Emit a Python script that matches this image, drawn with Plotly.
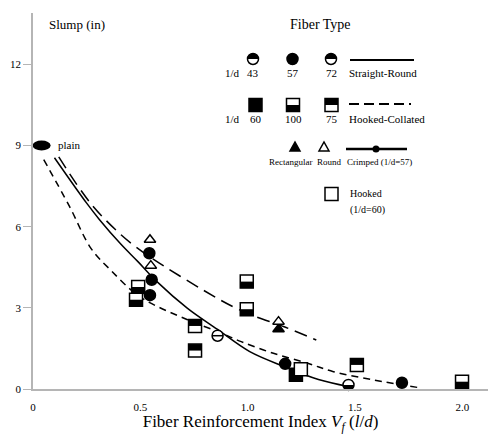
import plotly.graph_objects as go

# ---------------- data ----------------
# fitted trend curves (fiber reinforcement index vs slump)
solid_x = [0.10, 0.25, 0.31, 0.41, 0.49, 0.58, 0.72, 0.86, 1.01, 1.17, 1.33, 1.47]
solid_y = [8.55, 6.87, 6.26, 5.35, 4.70, 3.95, 2.98, 2.20, 1.38, 0.83, 0.35, 0.09]

longdash_x = [0.12, 0.27, 0.41, 0.48, 0.56, 0.79, 0.93, 1.03, 1.17, 1.32]
longdash_y = [8.58, 6.85, 5.70, 5.25, 4.80, 3.67, 3.05, 2.70, 2.30, 1.81]

shortdash_x = [0.05, 0.17, 0.27, 0.36, 0.50, 0.72, 0.87, 0.97, 1.12, 1.28, 1.40, 1.59, 1.79]
shortdash_y = [8.48, 6.75, 5.20, 4.41, 3.40, 2.56, 2.09, 1.75, 1.32, 0.95, 0.64, 0.33, 0.06]

# plain concrete
plain_x = [0.04]
plain_y = [9.0]

# straight-round fibers
round57_x = [0.542, 0.553, 0.545, 1.175, 1.719]
round57_y = [5.02, 4.04, 3.47, 0.93, 0.23]
round43_x = [0.86]
round43_y = [1.97]
round72_x = [1.47]
round72_y = [0.15]

# hooked-collated fibers
hc60_x = [1.225]
hc60_y = [0.53]
hc100_x = [0.49, 0.48, 0.996, 0.996, 1.999]
hc100_y = [3.77, 3.30, 3.97, 2.95, 0.27]
hc75_x = [0.755, 0.755, 1.509]
hc75_y = [2.33, 1.42, 0.89]

# crimped fibers
crimp_rect_x = [1.144]
crimp_rect_y = [2.21]
crimp_round_x = [0.545, 0.549, 1.144]
crimp_round_y = [5.52, 4.56, 2.49]

# hooked fibers (l/d = 60)
hooked_x = [1.248]
hooked_y = [0.73]

x_ticks = [0, 0.5, 1.0, 1.5, 2.0]
x_tick_text = ["0", "0.5", "1.0", "1.5", "2.0"]
y_ticks = [0, 3, 6, 9, 12]

# ---------------- layout geometry ----------------
W, H = 488, 434
ML, MR, MT, MB = 33, 0, 13, 45
PW, PH = W - ML - MR, H - MT - MB
SERIF = "Liberation Serif"


def fx(px):
    return (px - ML) / PW


def fy(py):
    return (H - MB - py) / PH


SQ = 13          # square marker side
CR = 11          # circle marker diameter
K = 0.5523


def half_square_path(part, s):
    if part == "bottom":
        return f"M{-s},{-s} L{s},{-s} L{s},0 L{-s},0 Z"
    return f"M{-s},0 L{s},0 L{s},{s} L{-s},{s} Z"


def half_circle_path(part, r):
    sgn = 1 if part == "top" else -1
    k = K * r
    return (f"M{-r},0 C{-r},{sgn * k} {-k},{sgn * r} 0,{sgn * r} "
            f"C{k},{sgn * r} {r},{sgn * k} {r},0 Z")


def pix_shape(x, y, xref, yref, path, fill="black", lw=0):
    return dict(type="path", xref=xref, yref=yref,
                xsizemode="pixel", ysizemode="pixel",
                xanchor=x, yanchor=y, path=path,
                fillcolor=fill, line=dict(color="black", width=lw),
                layer="above")


shapes = []
annotations = []

fig = go.Figure()

# ---------------- curves ----------------
curve_style = dict(mode="lines", line_shape="spline", hoverinfo="skip", showlegend=False)
fig.add_trace(go.Scatter(x=shortdash_x, y=shortdash_y, name="Hooked-Collated",
                         line=dict(color="black", width=1.5, dash="7px,5px"), **curve_style))
fig.add_trace(go.Scatter(x=longdash_x, y=longdash_y, name="Crimped",
                         line=dict(color="black", width=1.5, dash="13px,7px"), **curve_style))
fig.add_trace(go.Scatter(x=solid_x, y=solid_y, name="Straight-Round",
                         line=dict(color="black", width=1.5), **curve_style))

# ---------------- markers ----------------
def marker_trace(xs, ys, symbol, size, fill, name):
    fig.add_trace(go.Scatter(
        x=xs, y=ys, mode="markers", name=name, showlegend=False, cliponaxis=False,
        marker=dict(symbol=symbol, size=size, color=fill,
                    line=dict(color="black", width=1.5))))


marker_trace(round57_x, round57_y, "circle", CR, "black", "Straight-Round l/d=57")
marker_trace(round43_x, round43_y, "circle", CR, "white", "Straight-Round l/d=43")
marker_trace(round72_x, round72_y, "circle", CR, "white", "Straight-Round l/d=72")
marker_trace(hc60_x, hc60_y, "square", SQ, "black", "Hooked-Collated l/d=60")
marker_trace(hc100_x, hc100_y, "square", SQ, "white", "Hooked-Collated l/d=100")
marker_trace(hc75_x, hc75_y, "square", SQ, "white", "Hooked-Collated l/d=75")
marker_trace(crimp_rect_x, crimp_rect_y, "triangle-up", 10, "black", "Crimped rectangular")
marker_trace(crimp_round_x, crimp_round_y, "triangle-up", 10, "white", "Crimped round")
marker_trace(hooked_x, hooked_y, "square", SQ, "white", "Hooked l/d=60")

# half fills on data markers
for x, y in zip(hc100_x, hc100_y):
    shapes.append(pix_shape(x, y, "x", "y", half_square_path("bottom", SQ / 2)))
for x, y in zip(hc75_x, hc75_y):
    shapes.append(pix_shape(x, y, "x", "y", half_square_path("top", SQ / 2)))
for x, y in zip(round43_x, round43_y):
    shapes.append(pix_shape(x, y, "x", "y", f"M{-CR / 2},0 L{CR / 2},0", fill="rgba(0,0,0,0)", lw=1.5))
for x, y in zip(round72_x, round72_y):
    shapes.append(pix_shape(x, y, "x", "y", half_circle_path("bottom", CR / 2)))

# plain concrete: flat ellipse
for x, y in zip(plain_x, plain_y):
    shapes.append(dict(type="circle", xref="x", yref="y",
                       xsizemode="pixel", ysizemode="pixel",
                       xanchor=x, yanchor=y, x0=-9, x1=9, y0=-5, y1=5,
                       fillcolor="black", line=dict(color="black", width=0), layer="above"))
    annotations.append(dict(x=x, y=y, xref="x", yref="y", text="plain", showarrow=False,
                            xanchor="left", yanchor="middle", xshift=14, yshift=1,
                            font=dict(family=SERIF, size=11, color="black")))

# ---------------- key (drawn inside the plot) ----------------
def key_text(px, py, text, size=11, anchor="center"):
    annotations.append(dict(x=fx(px), y=fy(py), xref="paper", yref="paper", text=text,
                            showarrow=False, xanchor=anchor, yanchor="middle",
                            font=dict(family=SERIF, size=size, color="black")))


def key_circle(px, py, fill, half=None):
    r = CR / 2
    shapes.append(dict(type="circle", xref="paper", yref="paper",
                       xsizemode="pixel", ysizemode="pixel",
                       xanchor=fx(px), yanchor=fy(py), x0=-r, x1=r, y0=-r, y1=r,
                       fillcolor=fill, line=dict(color="black", width=1.5), layer="above"))
    if half:
        shapes.append(pix_shape(fx(px), fy(py), "paper", "paper", half_circle_path(half, r)))


def key_square(px, py, fill, half=None):
    s = SQ / 2
    shapes.append(dict(type="rect", xref="paper", yref="paper",
                       xsizemode="pixel", ysizemode="pixel",
                       xanchor=fx(px), yanchor=fy(py), x0=-s, x1=s, y0=-s, y1=s,
                       fillcolor=fill, line=dict(color="black", width=1.5), layer="above"))
    if half:
        shapes.append(pix_shape(fx(px), fy(py), "paper", "paper", half_square_path(half, s)))


def key_triangle(px, py, fill):
    shapes.append(pix_shape(fx(px), fy(py), "paper", "paper",
                            "M-5,-4 L5,-4 L0,5 Z", fill=fill, lw=1.5))


def key_line(px0, px1, py, dash="solid", width=2):
    shapes.append(dict(type="line", xref="paper", yref="paper",
                       x0=fx(px0), x1=fx(px1), y0=fy(py), y1=fy(py),
                       line=dict(color="black", width=width, dash=dash), layer="above"))


key_text(320, 25, "Fiber Type", size=14)

# row 1: straight-round
key_circle(253, 59, "white", "top")
key_circle(292.5, 59, "black")
key_circle(331, 59, "white", "top")
key_line(350, 414, 60)
key_text(232, 73, "1/d")
key_text(253, 73, "43")
key_text(292.5, 73, "57")
key_text(331, 73, "72")
key_text(347, 73, "Straight-Round", anchor="left")

# row 2: hooked-collated
key_square(255.5, 105, "black")
key_square(293, 105, "white", "bottom")
key_square(331.5, 105, "white", "top")
key_line(349, 411, 104, dash="10px,5px")
key_text(232, 119, "1/d")
key_text(255.5, 119, "60")
key_text(293, 119, "100")
key_text(331.5, 119, "75")
key_text(347, 119, "Hooked-Collated", anchor="left")

# row 3: crimped
key_triangle(295, 147, "black")
key_triangle(324, 147, "white")
key_line(346, 407, 149, width=2.5)
shapes.append(dict(type="circle", xref="paper", yref="paper",
                   xsizemode="pixel", ysizemode="pixel",
                   xanchor=fx(376), yanchor=fy(149), x0=-3.5, x1=3.5, y0=-3.5, y1=3.5,
                   fillcolor="black", line=dict(color="black", width=0), layer="above"))
key_text(290, 162, "Rectangular", size=9)
key_text(329, 162, "Round", size=9)
key_text(379, 162, "Crimped (1/d=57)", size=9)

# row 4: hooked
key_square(331.5, 194, "white")
key_text(348, 193, "Hooked", size=10, anchor="left")
key_text(348, 210, "(1/d=60)", size=10, anchor="left")

# axis caption on the y side
key_text(47, 24, "Slump (in)", size=13, anchor="left")

# ---------------- axes ----------------
axis_col = "#b5b5b5"
fig.update_layout(
    width=W, height=H,
    margin=dict(l=ML, r=MR, t=MT, b=MB, pad=0),
    paper_bgcolor="white", plot_bgcolor="white",
    showlegend=False,
    shapes=shapes, annotations=annotations,
    font=dict(family=SERIF, color="black"),
    xaxis=dict(range=[0, 2.12], showgrid=False, zeroline=False,
               showline=True, linecolor=axis_col, linewidth=1.5,
               tickmode="array", tickvals=x_ticks, ticktext=x_tick_text,
               ticks="", ticklabelstandoff=7,
               tickfont=dict(family=SERIF, size=11, color="black"),
               title=dict(text="Fiber Reinforcement Index <i>V<sub>f</sub></i> (<i>l</i>/<i>d</i>)",
                          font=dict(family=SERIF, size=17, color="black"), standoff=10)),
    yaxis=dict(range=[0, 13.9], showgrid=False, zeroline=False,
               showline=True, linecolor=axis_col, linewidth=1.5,
               tickmode="array", tickvals=y_ticks,
               ticks="outside", ticklen=8, tickcolor=axis_col, tickwidth=1,
               tickfont=dict(family=SERIF, size=11, color="black")),
)

fig.write_html("out.html")
